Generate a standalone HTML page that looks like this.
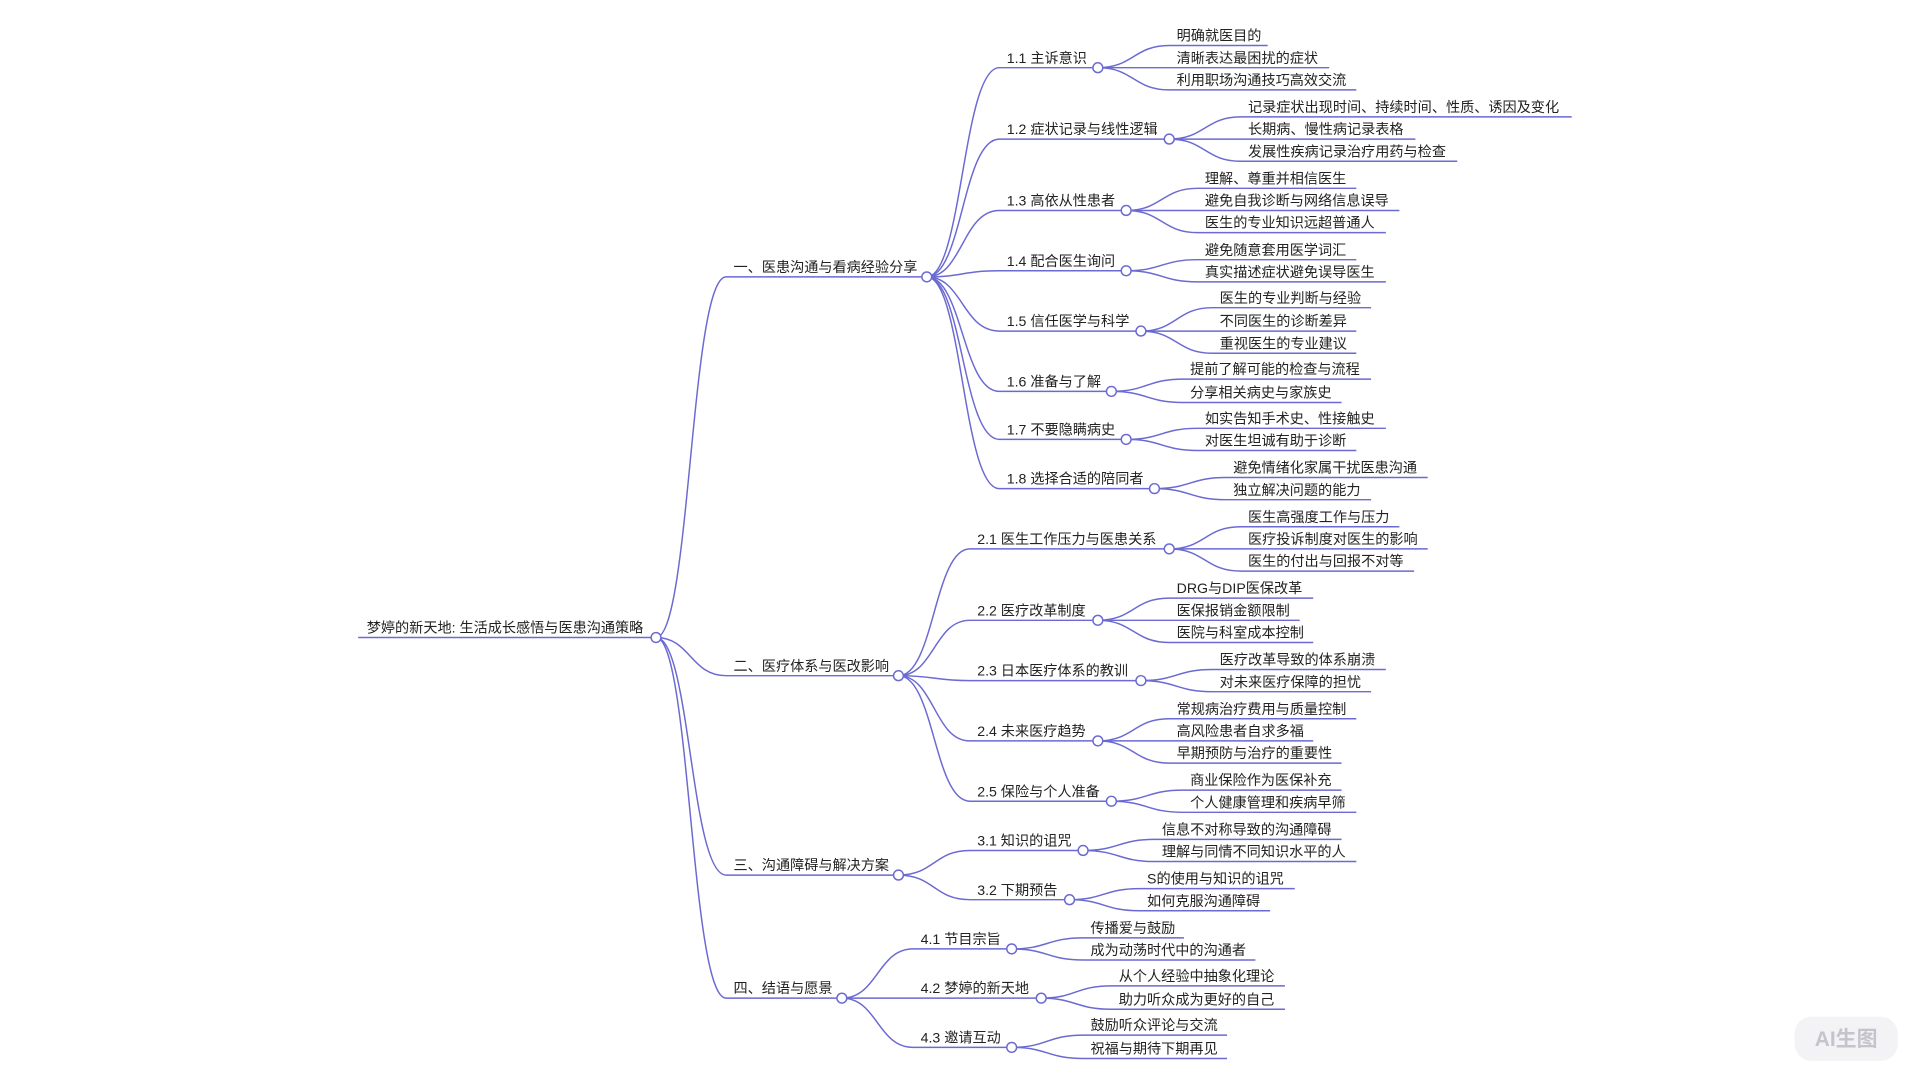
<!DOCTYPE html>
<html><head><meta charset="utf-8"><style>
html,body{margin:0;padding:0;background:#fff;}
svg{display:block}
text{font-family:"Liberation Sans","Noto Sans CJK SC",sans-serif;font-size:11.5px;fill:#222;}
path{fill:none;stroke:#6a6ad2;stroke-width:1.2;}
circle{fill:#fff;stroke:#6a6ad2;stroke-width:1.2;}
</style></head><body>
<svg width="1920" height="1080" viewBox="0 0 1560 877.5" preserveAspectRatio="none" xmlns="http://www.w3.org/2000/svg">
<!-- root -->
<path d="M291 518 H533"/>
<text x="298" y="514">梦婷的新天地: 生活成长感悟与医患沟通策略</text>
<!-- L1 -->
<path d="M533 518 C561 518 561 225 590 225 H753"/><text x="596" y="221">一、医患沟通与看病经验分享</text>
<path d="M533 518 C561 518 561 549 590 549 H730"/><text x="596" y="545">二、医疗体系与医改影响</text>
<path d="M533 518 C561 518 561 711 590 711 H730"/><text x="596" y="707">三、沟通障碍与解决方案</text>
<path d="M533 518 C561 518 561 811 590 811 H684"/><text x="596" y="807">四、结语与愿景</text>
<!-- L2 of 一 -->
<path d="M753 225 C782 225 782 55 812 55 H892"/><text x="818" y="51">1.1 主诉意识</text>
<path d="M753 225 C782 225 782 113 812 113 H950"/><text x="818" y="109">1.2 症状记录与线性逻辑</text>
<path d="M753 225 C782 225 782 171 812 171 H915"/><text x="818" y="167">1.3 高依从性患者</text>
<path d="M753 225 C782 225 782 220 812 220 H915"/><text x="818" y="216">1.4 配合医生询问</text>
<path d="M753 225 C782 225 782 269 812 269 H927"/><text x="818" y="265">1.5 信任医学与科学</text>
<path d="M753 225 C782 225 782 318 812 318 H903"/><text x="818" y="314">1.6 准备与了解</text>
<path d="M753 225 C782 225 782 357 812 357 H915"/><text x="818" y="353">1.7 不要隐瞒病史</text>
<path d="M753 225 C782 225 782 397 812 397 H938"/><text x="818" y="393">1.8 选择合适的陪同者</text>
<!-- L2 of 二 -->
<path d="M730 549 C759 549 759 446 788 446 H950"/><text x="794" y="442">2.1 医生工作压力与医患关系</text>
<path d="M730 549 C759 549 759 504 788 504 H892"/><text x="794" y="500">2.2 医疗改革制度</text>
<path d="M730 549 C759 549 759 553 788 553 H927"/><text x="794" y="549">2.3 日本医疗体系的教训</text>
<path d="M730 549 C759 549 759 602 788 602 H892"/><text x="794" y="598">2.4 未来医疗趋势</text>
<path d="M730 549 C759 549 759 651 788 651 H903"/><text x="794" y="647">2.5 保险与个人准备</text>
<!-- L2 of 三 -->
<path d="M730 711 C759 711 759 691 788 691 H880"/><text x="794" y="687">3.1 知识的诅咒</text>
<path d="M730 711 C759 711 759 731 788 731 H869"/><text x="794" y="727">3.2 下期预告</text>
<!-- L2 of 四 -->
<path d="M684 811 C713 811 713 771 742 771 H822"/><text x="748" y="767">4.1 节目宗旨</text>
<path d="M684 811 C713 811 713 811 742 811 H846"/><text x="748" y="807">4.2 梦婷的新天地</text>
<path d="M684 811 C713 811 713 851 742 851 H822"/><text x="748" y="847">4.3 邀请互动</text>
<!-- leaves 1.1 -->
<path d="M892 55 C921 55 921 37 950 37 H1030"/><text x="956" y="33">明确就医目的</text>
<path d="M892 55 C921 55 921 55 950 55 H1080"/><text x="956" y="51">清晰表达最困扰的症状</text>
<path d="M892 55 C921 55 921 73 950 73 H1102"/><text x="956" y="69">利用职场沟通技巧高效交流</text>
<!-- 1.2 -->
<path d="M950 113 C979 113 979 95 1008 95 H1277"/><text x="1014" y="91">记录症状出现时间、持续时间、性质、诱因及变化</text>
<path d="M950 113 C979 113 979 113 1008 113 H1150"/><text x="1014" y="109">长期病、慢性病记录表格</text>
<path d="M950 113 C979 113 979 131 1008 131 H1184"/><text x="1014" y="127">发展性疾病记录治疗用药与检查</text>
<!-- 1.3 -->
<path d="M915 171 C944 171 944 153 973 153 H1102"/><text x="979" y="149">理解、尊重并相信医生</text>
<path d="M915 171 C944 171 944 171 973 171 H1137"/><text x="979" y="167">避免自我诊断与网络信息误导</text>
<path d="M915 171 C944 171 944 189 973 189 H1126"/><text x="979" y="185">医生的专业知识远超普通人</text>
<!-- 1.4 -->
<path d="M915 220 C944 220 944 211 973 211 H1102"/><text x="979" y="207">避免随意套用医学词汇</text>
<path d="M915 220 C944 220 944 229 973 229 H1126"/><text x="979" y="225">真实描述症状避免误导医生</text>
<!-- 1.5 -->
<path d="M927 269 C956 269 956 250 985 250 H1114"/><text x="991" y="246">医生的专业判断与经验</text>
<path d="M927 269 C956 269 956 269 985 269 H1102"/><text x="991" y="265">不同医生的诊断差异</text>
<path d="M927 269 C956 269 956 287 985 287 H1102"/><text x="991" y="283">重视医生的专业建议</text>
<!-- 1.6 -->
<path d="M903 318 C932 318 932 308 961 308 H1114"/><text x="967" y="304">提前了解可能的检查与流程</text>
<path d="M903 318 C932 318 932 327 961 327 H1090"/><text x="967" y="323">分享相关病史与家族史</text>
<!-- 1.7 -->
<path d="M915 357 C944 357 944 348 973 348 H1126"/><text x="979" y="344">如实告知手术史、性接触史</text>
<path d="M915 357 C944 357 944 366 973 366 H1102"/><text x="979" y="362">对医生坦诚有助于诊断</text>
<!-- 1.8 -->
<path d="M938 397 C967 397 967 388 996 388 H1160"/><text x="1002" y="384">避免情绪化家属干扰医患沟通</text>
<path d="M938 397 C967 397 967 406 996 406 H1114"/><text x="1002" y="402">独立解决问题的能力</text>
<!-- 2.1 -->
<path d="M950 446 C979 446 979 428 1008 428 H1137"/><text x="1014" y="424">医生高强度工作与压力</text>
<path d="M950 446 C979 446 979 446 1008 446 H1160"/><text x="1014" y="442">医疗投诉制度对医生的影响</text>
<path d="M950 446 C979 446 979 464 1008 464 H1149"/><text x="1014" y="460">医生的付出与回报不对等</text>
<!-- 2.2 -->
<path d="M892 504 C921 504 921 486 950 486 H1067"/><text x="956" y="482">DRG与DIP医保改革</text>
<path d="M892 504 C921 504 921 504 950 504 H1056"/><text x="956" y="500">医保报销金额限制</text>
<path d="M892 504 C921 504 921 522 950 522 H1067"/><text x="956" y="518">医院与科室成本控制</text>
<!-- 2.3 -->
<path d="M927 553 C956 553 956 544 985 544 H1126"/><text x="991" y="540">医疗改革导致的体系崩溃</text>
<path d="M927 553 C956 553 956 562 985 562 H1114"/><text x="991" y="558">对未来医疗保障的担忧</text>
<!-- 2.4 -->
<path d="M892 602 C921 602 921 584 950 584 H1102"/><text x="956" y="580">常规病治疗费用与质量控制</text>
<path d="M892 602 C921 602 921 602 950 602 H1067"/><text x="956" y="598">高风险患者自求多福</text>
<path d="M892 602 C921 602 921 620 950 620 H1090"/><text x="956" y="616">早期预防与治疗的重要性</text>
<!-- 2.5 -->
<path d="M903 651 C932 651 932 642 961 642 H1090"/><text x="967" y="638">商业保险作为医保补充</text>
<path d="M903 651 C932 651 932 660 961 660 H1102"/><text x="967" y="656">个人健康管理和疾病早筛</text>
<!-- 3.1 -->
<path d="M880 691 C909 691 909 682 938 682 H1090"/><text x="944" y="678">信息不对称导致的沟通障碍</text>
<path d="M880 691 C909 691 909 700 938 700 H1102"/><text x="944" y="696">理解与同情不同知识水平的人</text>
<!-- 3.2 -->
<path d="M869 731 C897 731 897 722 926 722 H1052"/><text x="932" y="718">S的使用与知识的诅咒</text>
<path d="M869 731 C897 731 897 740 926 740 H1032"/><text x="932" y="736">如何克服沟通障碍</text>
<!-- 4.1 -->
<path d="M822 771 C851 771 851 762 880 762 H962"/><text x="886" y="758">传播爱与鼓励</text>
<path d="M822 771 C851 771 851 780 880 780 H1020"/><text x="886" y="776">成为动荡时代中的沟通者</text>
<!-- 4.2 -->
<path d="M846 811 C874 811 874 801 903 801 H1044"/><text x="909" y="797">从个人经验中抽象化理论</text>
<path d="M846 811 C874 811 874 820 903 820 H1044"/><text x="909" y="816">助力听众成为更好的自己</text>
<!-- 4.3 -->
<path d="M822 851 C851 851 851 841 880 841 H997"/><text x="886" y="837">鼓励听众评论与交流</text>
<path d="M822 851 C851 851 851 860 880 860 H997"/><text x="886" y="856">祝福与期待下期再见</text>
<!-- circles -->
<circle cx="533" cy="518" r="4"/>
<circle cx="753" cy="225" r="4"/><circle cx="730" cy="549" r="4"/><circle cx="730" cy="711" r="4"/><circle cx="684" cy="811" r="4"/>
<circle cx="892" cy="55" r="4"/><circle cx="950" cy="113" r="4"/><circle cx="915" cy="171" r="4"/><circle cx="915" cy="220" r="4"/>
<circle cx="927" cy="269" r="4"/><circle cx="903" cy="318" r="4"/><circle cx="915" cy="357" r="4"/><circle cx="938" cy="397" r="4"/>
<circle cx="950" cy="446" r="4"/><circle cx="892" cy="504" r="4"/><circle cx="927" cy="553" r="4"/><circle cx="892" cy="602" r="4"/><circle cx="903" cy="651" r="4"/>
<circle cx="880" cy="691" r="4"/><circle cx="869" cy="731" r="4"/>
<circle cx="822" cy="771" r="4"/><circle cx="846" cy="811" r="4"/><circle cx="822" cy="851" r="4"/>
<!-- watermark -->
<rect x="1458" y="826" width="84" height="36" rx="14" fill="#f3f3f5" stroke="none"/>
<text x="1500" y="850" text-anchor="middle" style="font-size:17px;fill:#c4c4cc;font-weight:bold">AI生图</text>
</svg>
</body></html>
